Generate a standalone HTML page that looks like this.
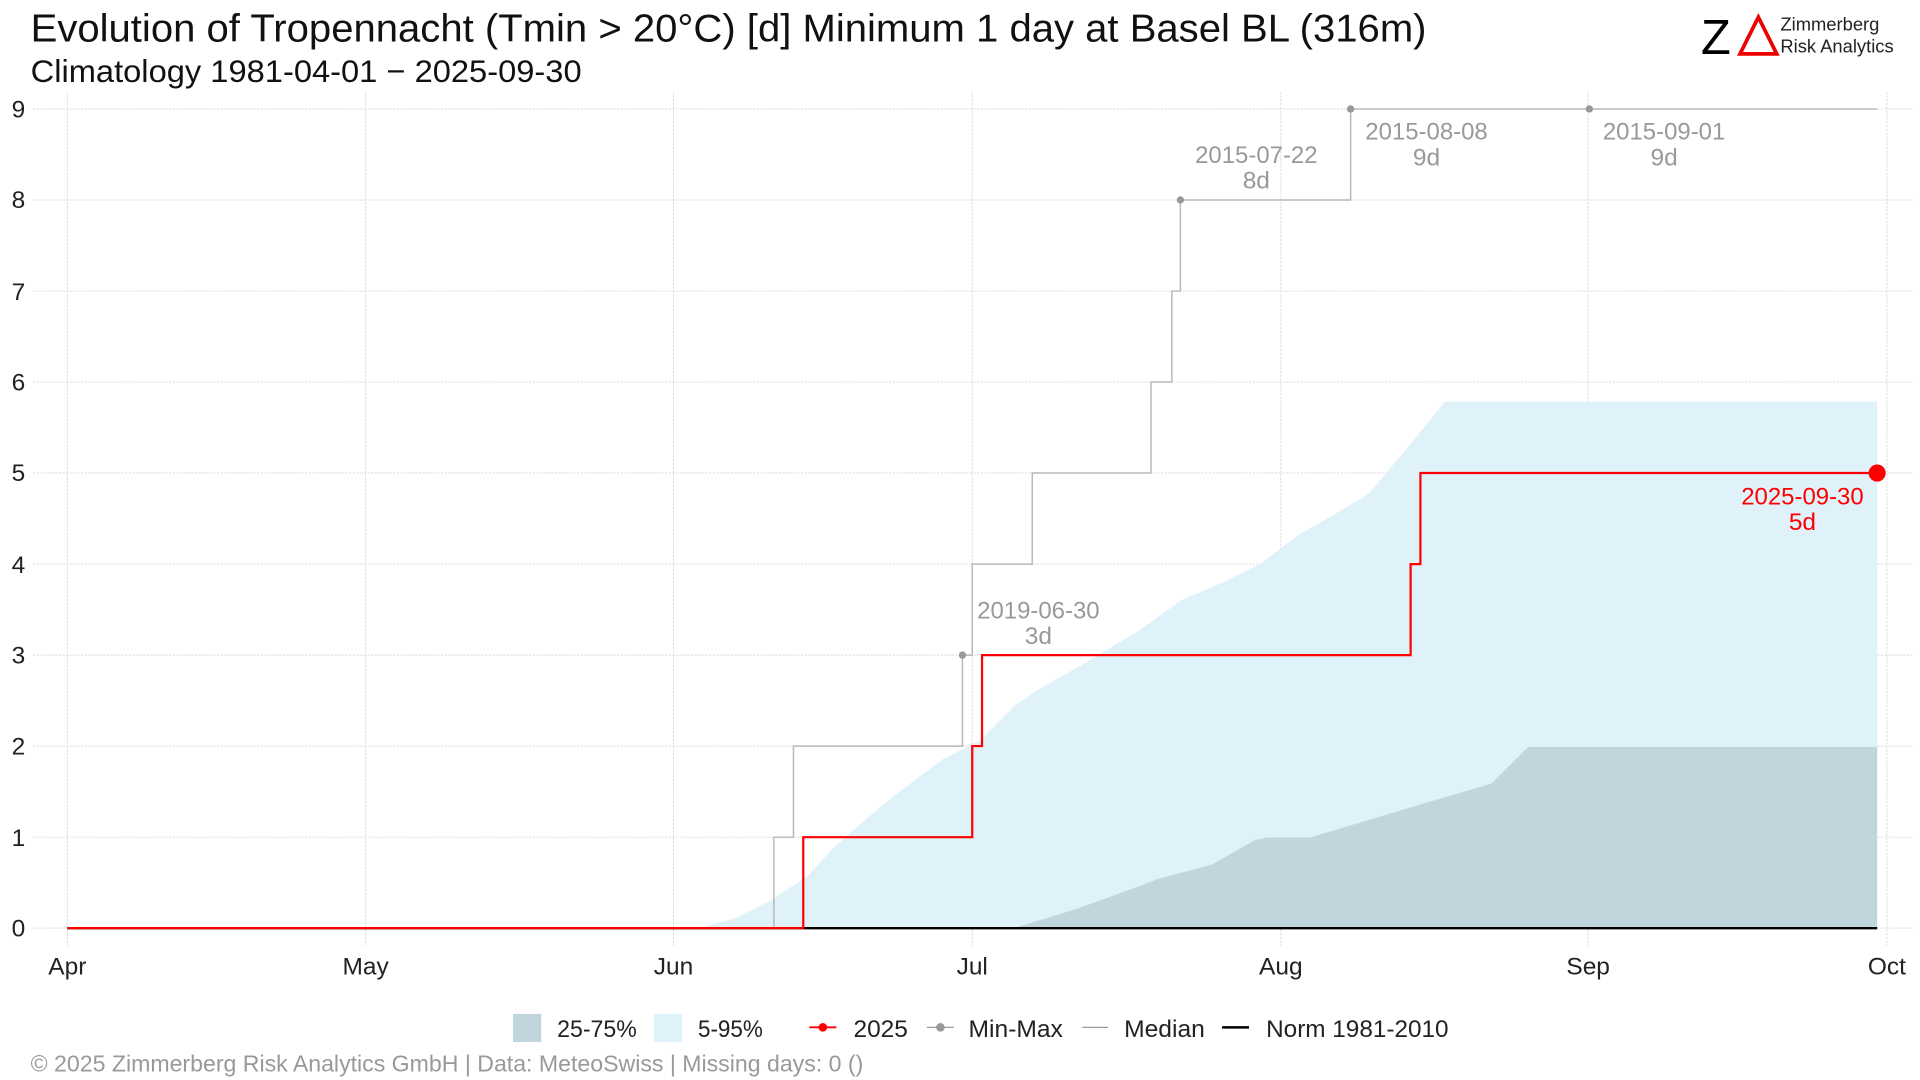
<!DOCTYPE html>
<html><head><meta charset="utf-8"><style>
html,body{margin:0;padding:0;background:#fff;width:1920px;height:1080px;overflow:hidden}
svg{display:block}
text{font-family:"Liberation Sans",sans-serif}
</style></head><body>
<svg width="1920" height="1080" viewBox="0 0 1568 882" preserveAspectRatio="none" xmlns="http://www.w3.org/2000/svg">
<rect width="1568" height="882" fill="#fff"/>
<!-- grid -->
<g stroke="#dcdcdc" stroke-width="0.8" stroke-dasharray="2,1">
<line x1="27" x2="1563" y1="758" y2="758"/><line x1="27" x2="1563" y1="683.7" y2="683.7"/>
<line x1="27" x2="1563" y1="609.3" y2="609.3"/><line x1="27" x2="1563" y1="535" y2="535"/>
<line x1="27" x2="1563" y1="460.7" y2="460.7"/><line x1="27" x2="1563" y1="386.3" y2="386.3"/>
<line x1="27" x2="1563" y1="312" y2="312"/><line x1="27" x2="1563" y1="237.7" y2="237.7"/>
<line x1="27" x2="1563" y1="163.3" y2="163.3"/><line x1="27" x2="1563" y1="89" y2="89"/>
<line x1="55" x2="55" y1="75" y2="772"/><line x1="298.6" x2="298.6" y1="75" y2="772"/>
<line x1="550" x2="550" y1="75" y2="772"/><line x1="794" x2="794" y1="75" y2="772"/>
<line x1="1046" x2="1046" y1="75" y2="772"/><line x1="1297" x2="1297" y1="75" y2="772"/>
<line x1="1541" x2="1541" y1="75" y2="772"/>
</g>
<!-- 5-95 band -->
<polygon fill="#dff2f9" points="570,758 600,750 630,735 660,715 680,693 700,675 730,650 770,620 800,605 830,575 850,562 880,545 930,515 965,490 1000,475 1030,460 1060,437 1090,420 1118,403 1150,365 1180,328 1533,328 1533,758"/>
<!-- 25-75 band -->
<polygon fill="#c0d5dc" points="828,758 880,742 935,722 945,718 990,706 1025,686 1035,684 1070,684 1100,675 1160,657 1218,640 1248,610 1533,610 1533,758"/>
<!-- max -->
<polyline fill="none" stroke="#b8b8b8" stroke-width="1.2" points="55,758 632,758 632,683.7 648,683.7 648,609.3 786,609.3 786,535 794,535 794,460.7 843,460.7 843,386.3 940,386.3 940,312 957,312 957,237.7 964,237.7 964,163.3 1103,163.3 1103,89 1533,89"/>
<g fill="#999"><circle cx="786" cy="535" r="3"/><circle cx="964" cy="163.3" r="3"/><circle cx="1103" cy="89" r="3"/><circle cx="1298" cy="89" r="3"/></g>
<!-- norm -->
<line x1="55" x2="1533" y1="758" y2="758" stroke="#000" stroke-width="2"/>
<!-- 2025 -->
<polyline fill="none" stroke="#ff0000" stroke-width="1.8" points="55,758 656,758 656,683.7 794,683.7 794,609.3 802,609.3 802,535 1152,535 1152,460.7 1160,460.7 1160,386.3 1533,386.3"/>
<circle cx="1533" cy="386.3" r="7" fill="#ff0000"/>
<!-- annotations -->
<g fill="#999" font-size="20" text-anchor="middle">
<text x="1026" y="133" textLength="100" lengthAdjust="spacingAndGlyphs">2015-07-22</text>
<text x="1026" y="154">8d</text>
<text x="1165" y="114" textLength="100" lengthAdjust="spacingAndGlyphs">2015-08-08</text>
<text x="1165" y="135">9d</text>
<text x="1359" y="114" textLength="100" lengthAdjust="spacingAndGlyphs">2015-09-01</text>
<text x="1359" y="135">9d</text>
<text x="848" y="505" textLength="100" lengthAdjust="spacingAndGlyphs">2019-06-30</text>
<text x="848" y="526">3d</text>
</g>
<g fill="#ff0000" font-size="20" text-anchor="middle">
<text x="1472" y="412" textLength="100" lengthAdjust="spacingAndGlyphs">2025-09-30</text>
<text x="1472" y="433">5d</text>
</g>
<!-- axes labels -->
<g font-size="20" fill="#222" text-anchor="middle">
<text x="15" y="765">0</text><text x="15" y="691">1</text><text x="15" y="616">2</text>
<text x="15" y="542">3</text><text x="15" y="468">4</text><text x="15" y="393">5</text>
<text x="15" y="319">6</text><text x="15" y="245">7</text><text x="15" y="170">8</text><text x="15" y="96">9</text>
<text x="55" y="796">Apr</text><text x="298.6" y="796">May</text><text x="550" y="796">Jun</text>
<text x="794" y="796">Jul</text><text x="1046" y="796">Aug</text><text x="1297" y="796">Sep</text><text x="1541" y="796">Oct</text>
</g>
<!-- titles -->
<text x="25" y="34" font-size="32" fill="#111" textLength="1140" lengthAdjust="spacingAndGlyphs">Evolution of Tropennacht (Tmin &gt; 20°C) [d] Minimum 1 day at Basel  BL (316m)</text>
<text x="25" y="67" font-size="26" fill="#111" textLength="450" lengthAdjust="spacingAndGlyphs">Climatology 1981-04-01 − 2025-09-30</text>
<!-- logo -->
<text x="1389" y="44" font-size="40" font-family="Liberation Serif,serif" fill="#000">Z</text>
<polygon points="1436,14 1451,44 1421,44" fill="none" stroke="#e00" stroke-width="3"/>
<text x="1454" y="25" font-size="15" fill="#222">Zimmerberg</text>
<text x="1454" y="43" font-size="15" fill="#222">Risk Analytics</text>
<!-- legend -->
<rect x="419" y="828" width="23" height="23" fill="#c0d5dc"/>
<text x="455" y="847" font-size="20" fill="#222" textLength="65" lengthAdjust="spacingAndGlyphs">25-75%</text>
<rect x="534" y="828" width="23" height="23" fill="#dff2f9"/>
<text x="570" y="847" font-size="20" fill="#222" textLength="53" lengthAdjust="spacingAndGlyphs">5-95%</text>
<line x1="661" x2="683" y1="839" y2="839" stroke="#f00" stroke-width="1.5"/><circle cx="672" cy="839" r="3.5" fill="#f00"/>
<text x="697" y="847" font-size="20" fill="#222">2025</text>
<line x1="757" x2="779" y1="839" y2="839" stroke="#999" stroke-width="1"/><circle cx="768" cy="839" r="3.5" fill="#999"/>
<text x="791" y="847" font-size="20" fill="#222" textLength="77" lengthAdjust="spacingAndGlyphs">Min-Max</text>
<line x1="884" x2="905" y1="839" y2="839" stroke="#999" stroke-width="1"/>
<text x="918" y="847" font-size="20" fill="#222" textLength="66" lengthAdjust="spacingAndGlyphs">Median</text>
<line x1="998" x2="1020" y1="839" y2="839" stroke="#000" stroke-width="2"/>
<text x="1034" y="847" font-size="20" fill="#222" textLength="149" lengthAdjust="spacingAndGlyphs">Norm 1981-2010</text>
<text x="25" y="875" font-size="19" fill="#999" textLength="680" lengthAdjust="spacingAndGlyphs">©  2025 Zimmerberg Risk Analytics GmbH | Data: MeteoSwiss | Missing days: 0 ()</text>
</svg>
</body></html>
